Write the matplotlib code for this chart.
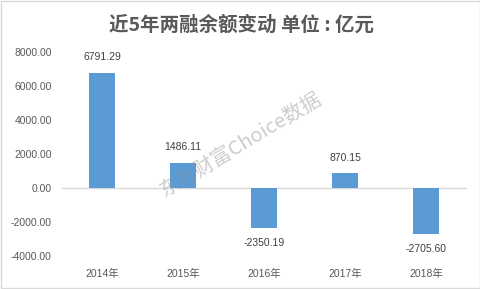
import matplotlib
matplotlib.use("Agg")
import matplotlib.pyplot as plt
from matplotlib.patches import Rectangle

plt.rcParams['font.family'] = ['Liberation Sans', 'Noto Sans CJK SC', 'DejaVu Sans']

years = ['2014年', '2015年', '2016年', '2017年', '2018年']
changes = [6791.29, 1486.11, -2350.19, 870.15, -2705.60]
yticks = [-4000, -2000, 0, 2000, 4000, 6000, 8000]

fig = plt.figure(figsize=(4.81, 2.89), dpi=100)
ax = fig.add_axes([0.128, 0.1142, 0.842, 0.706])

x = range(len(years))
bars = ax.bar(x, changes, width=0.315, color='#5b9bd5', zorder=2)
ax.axhline(0, color='#d9d9d9', lw=1, zorder=1)

# value labels: above positive bars, below negative ones
for xi, v in zip(x, changes):
    off = 11 if v >= 0 else -11
    ax.annotate(f'{v:.2f}', (xi, v), xytext=(0, off), textcoords='offset points',
                ha='center', va='center', fontsize=7.5, color='#404040')

ax.set_xlim(-0.5, len(years) - 0.5)
ax.set_ylim(-4000, 8000)
ax.set_yticks(yticks)
ax.set_yticklabels([f'{t:.2f}' for t in yticks])
ax.set_xticks(list(x))
ax.set_xticklabels(years)
ax.tick_params(axis='y', length=0, pad=7, labelsize=7.5, labelcolor='#595959')
ax.tick_params(axis='x', length=0, pad=9, labelsize=7.5, labelcolor='#595959')
for s in ax.spines.values():
    s.set_visible(False)

fig.text(0.502, 0.913, '近5年两融余额变动 单位 : 亿元', ha='center', va='center',
         fontsize=14, fontweight='bold', color='#595959', family=['Noto Sans CJK SC'])

# watermark
fig.text(0.501, 0.498, '东方财富Choice数据', ha='center', va='center', rotation=31,
         fontsize=14.5, color='#909090', alpha=0.45, family=['Noto Sans CJK SC'], zorder=5)

fig.patches.append(Rectangle((0.002, 0.003), 0.995, 0.994, transform=fig.transFigure,
                             fill=False, edgecolor='#d9d9d9', lw=1))

fig.savefig('out.png', dpi=100)
